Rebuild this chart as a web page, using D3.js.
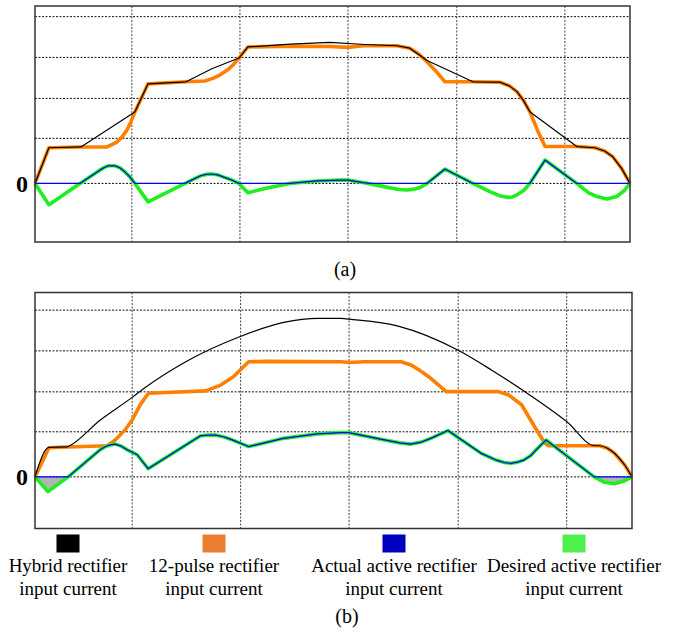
<!DOCTYPE html>
<html><head><meta charset="utf-8">
<script src="https://cdn.jsdelivr.net/npm/d3@7"></script>
<style>body{margin:0;background:#fff} svg{display:block}</style>
</head><body><svg id="c" width="674" height="633"></svg>
<script>
// ---- data (x: electrical angle in degrees, y: current in arbitrary units) ----
const xDomain = [0, 180];
const xGrid = [29.3, 62.0, 94.7, 127.6, 160.3];
const yGrid = [0, 11, 20.75, 30.75, 40.7];
const yDomainA = [-14.3, 43.3];
const yDomainB = [-12.6, 45.0];
const zeroLabel = "0";
const captions = ["(a)", "(b)"];

// panel (a)
const hybridA = [[0,0],[4.2,8.7],[13.9,8.9],[30.2,17.4],[34.2,24.3],[45.7,24.8],[53.5,28.0],[61.7,30.6],[64.4,33.3],[77.1,34.0],[89.2,34.4],[99.8,33.9],[109.5,33.6],[113.4,33.0],[118.6,30.0],[132.5,24.8],[140.7,24.7],[143.5,23.8],[145.8,22.4],[147.8,20.2],[149.7,17.5],[163.9,9.0],[169.4,8.7],[172.3,7.9],[174.8,6.5],[177.5,3.6],[180,0]];
const pulse12A = [[0,0],[4.2,8.7],[13.9,8.9],[21.8,8.9],[24.8,10.1],[26.3,11.3],[27.8,13.0],[29.0,15.0],[30.2,17.4],[34.2,24.3],[45.7,24.8],[51.4,25.0],[54.0,25.7],[56.0,26.5],[58.1,27.6],[59.9,28.9],[61.7,30.6],[64.4,33.3],[77.1,33.5],[89.2,33.4],[94.7,33.2],[99.2,33.6],[109.5,33.6],[113.4,33.0],[116.2,31.5],[118.6,29.7],[121.5,27.2],[124.0,24.8],[132.5,24.8],[140.7,24.7],[143.5,23.8],[145.8,22.4],[147.8,20.2],[149.7,17.5],[152.0,13.0],[154.3,9.0],[163.9,9.0],[169.4,8.7],[172.3,7.9],[174.8,6.5],[177.5,3.6],[180,0]];
const desiredA = [[0,0],[4.2,-5.2],[13.6,0],[19.7,3.3],[21.0,3.9],[22.1,4.3],[24.2,4.3],[25.7,3.8],[27.2,2.8],[28.7,1.6],[30.2,0],[34.2,-4.5],[45.4,0],[49.9,1.8],[51.7,2.2],[53.5,2.3],[55.2,2.1],[56.9,1.6],[59.3,0.9],[61.7,0],[64.4,-2.3],[70.2,-1.1],[77.1,0],[85.3,0.6],[92.3,0.8],[94.7,0.8],[99.2,0.2],[104.4,-0.6],[110.0,-1.5],[112.5,-1.6],[114.8,-1.4],[116.5,-1.0],[118.6,0],[124.0,3.5],[132.5,0],[137.6,-2.0],[140.5,-3.0],[142.8,-3.4],[144.5,-3.3],[145.8,-2.8],[148.0,-1.6],[149.7,0],[154.3,5.7],[163.9,0],[167.5,-2.3],[170.0,-3.2],[173.0,-3.8],[176.0,-3.2],[178.2,-1.8],[180,0]];
const actualA = [[0,0],[4.2,0],[13.6,0],[19.7,3.3],[21.0,3.9],[22.1,4.3],[24.2,4.3],[25.7,3.8],[27.2,2.8],[28.7,1.6],[30.2,0],[34.2,0],[45.4,0],[49.9,1.8],[51.7,2.2],[53.5,2.3],[55.2,2.1],[56.9,1.6],[59.3,0.9],[61.7,0],[64.4,0],[70.2,0],[77.1,0],[85.3,0.6],[92.3,0.8],[94.7,0.8],[99.2,0.2],[101.5,0],[118.6,0],[124.0,3.5],[132.5,0],[149.7,0],[154.3,5.7],[163.9,0],[180,0]];

// panel (b)
const hybridB = [[0,0],[4.2,7.2],[9.7,7.3],[10.0,7.4],[19.7,13.9],[29.3,19.4],[32.7,21.5],[44.8,27.8],[61.7,34.2],[75.0,37.7],[85.3,38.7],[92.3,38.7],[94.7,38.5],[109.5,36.8],[127.6,30.9],[137.6,26.1],[147.3,21.0],[160.3,13.5],[168.8,7.6],[170.3,7.6],[172.6,7.0],[174.8,5.7],[177.8,2.9],[180,0]];
const pulse12B = [[0,0],[4.2,7.1],[9.7,7.3],[21.8,7.6],[24.2,9.0],[27.2,11.5],[29.3,13.9],[31.8,17.7],[34.2,20.4],[51.4,21.0],[56.0,22.4],[59.9,24.5],[64.4,28.1],[70.2,28.2],[92.3,28.1],[94.7,27.9],[99.2,28.1],[110.4,28.1],[113.4,27.3],[116.0,26.0],[118.6,24.5],[124.0,20.8],[139.7,20.8],[142.8,20.0],[146.7,17.6],[150.6,12.3],[153.7,8.2],[154.9,7.6],[168.8,7.6],[170.3,7.6],[172.6,7.0],[174.8,5.7],[177.8,2.9],[180,0]];
const desiredB = [[0,0],[3.9,-3.6],[10.0,0],[19.6,6.6],[21.3,7.4],[22.7,7.8],[24.2,8.0],[26.0,7.5],[27.8,6.6],[30.8,5.4],[34.1,2.0],[49.8,10.0],[52.2,10.2],[54.4,10.2],[56.8,9.8],[58.9,9.2],[64.4,7.4],[74.9,9.4],[85.2,10.5],[92.1,10.8],[94.6,10.8],[104.2,9.2],[110.0,8.3],[113.3,8.0],[116.5,8.5],[119.3,9.4],[124.5,11.3],[134.4,5.8],[139.0,4.1],[141.5,3.5],[143.5,3.3],[145.5,3.6],[147.4,4.1],[149.5,5.2],[151.1,6.6],[154.1,9.0],[168.6,0],[171.6,-1.3],[174.6,-1.7],[177.6,-1.0],[180,0]];
const actualB = [[0,0],[3.9,0],[10.0,0],[19.6,6.6],[21.3,7.4],[22.7,7.8],[24.2,8.0],[26.0,7.5],[27.8,6.6],[30.8,5.4],[34.1,2.0],[49.8,10.0],[52.2,10.2],[54.4,10.2],[56.8,9.8],[58.9,9.2],[64.4,7.4],[74.9,9.4],[85.2,10.5],[92.1,10.8],[94.6,10.8],[104.2,9.2],[110.0,8.3],[113.3,8.0],[116.5,8.5],[119.3,9.4],[124.5,11.3],[134.4,5.8],[139.0,4.1],[141.5,3.5],[143.5,3.3],[145.5,3.6],[147.4,4.1],[149.5,5.2],[151.1,6.6],[154.1,9.0],[168.6,0],[180,0]];

// legend
const legendNames = [["Hybrid rectifier","input current"],["12-pulse rectifier","input current"],["Actual active rectifier","input current"],["Desired active rectifier","input current"]];
const legendColors = ["#000000","#ed7d31","#0000c0","#4df04d"];

// ---- drawing ----
const svg = d3.select("#c");
const serif = "'Liberation Serif','Times New Roman',serif";
const lineCol = {orange:"#ff8000", black:"#000", green:"#1fee1f", blue:"#0000ff"};

function panel(cfg) {
  const x = d3.scaleLinear().domain(xDomain).range([cfg.left, cfg.right]);
  const y = d3.scaleLinear().domain(cfg.yDomain).range([cfg.bottom, cfg.top]);
  const g = svg.append("g");
  // grid
  g.selectAll(".hg").data(yGrid).join("line")
    .attr("x1", cfg.left).attr("x2", cfg.right)
    .attr("y1", d => y(d)).attr("y2", d => y(d))
    .attr("stroke", "#111").attr("stroke-width", 1).attr("stroke-dasharray", "2,1.5");
  g.selectAll(".vg").data(xGrid).join("line")
    .attr("x1", d => x(d)).attr("x2", d => x(d))
    .attr("y1", cfg.top).attr("y2", cfg.bottom)
    .attr("stroke", "#444").attr("stroke-width", 1).attr("stroke-dasharray", "2,1.5");
  const line = d3.line().x(d => x(d[0])).y(d => y(d[1])).curve(d3.curveLinear);
  const smooth = d3.line().x(d => x(d[0])).y(d => y(d[1])).curve(d3.curveMonotoneX);
  // shading of negative desired current
  if (cfg.shade) {
    const area = d3.area().x(d => x(d[0])).y0(y(0)).y1(d => y(Math.min(0, d[1])));
    g.append("path").datum(cfg.desired).attr("d", area)
      .attr("fill", "#9a9a9a").attr("opacity", 0.75);
  }
  g.append("path").datum(cfg.pulse).attr("d", line)
    .attr("fill","none").attr("stroke", lineCol.orange).attr("stroke-width", 3.6).attr("stroke-linejoin","round");
  g.append("path").datum(cfg.hybrid).attr("d", cfg.smoothHybrid ? smooth : line)
    .attr("fill","none").attr("stroke", lineCol.black).attr("stroke-width", 1.2).attr("stroke-linejoin","round");
  g.append("path").datum(cfg.desired).attr("d", line)
    .attr("fill","none").attr("stroke", lineCol.green).attr("stroke-width", 3.6).attr("stroke-linejoin","round");
  g.append("path").datum(cfg.actual).attr("d", line)
    .attr("fill","none").attr("stroke", lineCol.blue).attr("stroke-width", 1.2).attr("stroke-linejoin","round");
  // frame
  g.append("rect").attr("x", cfg.left).attr("y", cfg.top)
    .attr("width", cfg.right - cfg.left).attr("height", cfg.bottom - cfg.top)
    .attr("fill","none").attr("stroke","#333").attr("stroke-width",1.5);
  // zero label
  g.append("text").attr("x", 22).attr("y", y(0) + 8.5)
    .attr("text-anchor","middle").attr("font-family", serif)
    .attr("font-weight","bold").attr("font-size", 24).text(zeroLabel);
  // caption
  g.append("text").attr("x", cfg.capX).attr("y", cfg.capY)
    .attr("text-anchor","middle").attr("font-family", serif)
    .attr("font-size", 20).text(cfg.caption);
}

panel({left:35, right:630, top:6, bottom:242, yDomain:yDomainA,
  hybrid:hybridA, pulse:pulse12A, desired:desiredA, actual:actualA,
  shade:false, smoothHybrid:false, caption:captions[0], capX:345, capY:276});
panel({left:35, right:632, top:292.5, bottom:528.5, yDomain:yDomainB,
  hybrid:hybridB, pulse:pulse12B, desired:desiredB, actual:actualB,
  shade:true, smoothHybrid:true, caption:captions[1], capX:347, capY:623});

// legend
const legCenters = [68, 214, 394, 574];
const lg = svg.append("g");
legendNames.forEach((nm, i) => {
  const cx = legCenters[i];
  lg.append("rect").attr("x", cx - 11.5).attr("y", 534.5).attr("width", 23).attr("height", 18)
    .attr("fill", legendColors[i]);
  nm.forEach((t, j) => {
    lg.append("text").attr("x", cx).attr("y", 572 + j * 23)
      .attr("text-anchor","middle").attr("font-family", serif)
      .attr("font-size", 19).text(t);
  });
});
</script></body></html>
